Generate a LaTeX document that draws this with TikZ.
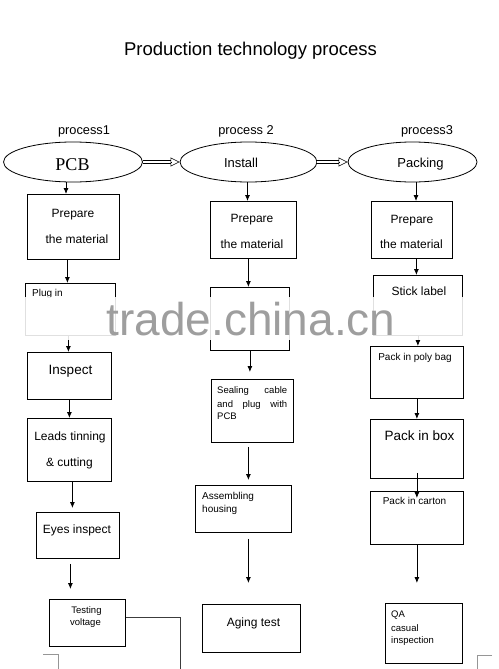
\documentclass[tikz,border=0pt]{standalone}
\usepackage{fontspec}
\setmainfont{Liberation Sans}
\newfontfamily\serifpcb{Liberation Serif}
\usetikzlibrary{shapes.geometric,arrows.meta}
\definecolor{wm}{RGB}{158,158,158}
\definecolor{cornergray}{RGB}{150,150,150}
\definecolor{linkgray}{RGB}{60,60,60}
\begin{document}
\begin{tikzpicture}[x=1pt,y=-1pt,
  box/.style={draw, line width=0.8pt, inner sep=0pt, anchor=north west},
  oval/.style={draw, ellipse, line width=0.8pt, inner sep=0pt, minimum height=40pt},
  arr/.style={line width=0.8pt, -{Latex[length=6pt,width=5pt]}},
  dbl/.style={double, double distance=2.2pt, line width=0.6pt},
  dhead/.style={line width=0.6pt, -{Triangle[open,length=9pt,width=9pt]}},
  txt/.style={inner sep=0pt, anchor=base},
  ltxt/.style={inner sep=0pt, anchor=base west},
  fA/.style={font=\fontsize{12}{14}\selectfont},
  fB/.style={font=\fontsize{13.5}{16}\selectfont},
  fS/.style={font=\fontsize{9.5}{12}\selectfont},
  fT/.style={font=\fontsize{10}{12}\selectfont},
]
\useasboundingbox (0,0) rectangle (498,669);

% title and process labels
\node[txt, font=\fontsize{18.5}{22}\selectfont] (title) at (250.5,56) {Production technology process};
\node[txt, font=\fontsize{12.8}{15}\selectfont] (pr1) at (84,134) {process1};
\node[txt, font=\fontsize{12.8}{15}\selectfont] (pr2) at (246,134) {process 2};
\node[txt, font=\fontsize{12.8}{15}\selectfont] (pr3) at (427,134) {process3};

% ellipses
\node[oval, minimum width=139pt] (pcb) at (73,162) {};
\node[oval, minimum width=137pt] (inst) at (248.5,162) {};
\node[oval, minimum width=129pt] (pack) at (412.5,162) {};
\node[txt, font=\serifpcb\fontsize{18}{20}\selectfont] (pcbt) at (72.5,170) {PCB};
\node[txt, font=\fontsize{13}{15}\selectfont] (instt) at (241,167) {Install};
\node[txt, font=\fontsize{13}{15}\selectfont] (packt) at (420.5,167) {Packing};

% double arrows
\draw[dbl] (pcb.east) -- ([xshift=-9pt]inst.west);
\draw[dhead] ([xshift=-9pt]inst.west) -- (inst.west);
\draw[dbl] (inst.east) -- ([xshift=-9pt]pack.west);
\draw[dhead] ([xshift=-9pt]pack.west) -- (pack.west);

% column 1 boxes
\node[box, minimum width=92pt, minimum height=65pt] (p1) at (27,194) {};
\node[box, minimum width=90pt, minimum height=52pt] (plug) at (25,283) {};
\node[box, minimum width=84pt, minimum height=47pt] (insp) at (27,352) {};
\node[box, minimum width=84pt, minimum height=63pt] (leads) at (27,418) {};
\node[box, minimum width=83pt, minimum height=46pt] (eyes) at (36,512) {};
\node[box, minimum width=76pt, minimum height=47pt] (test) at (49,599) {};

% column 2 boxes
\node[box, minimum width=86pt, minimum height=57pt] (p2) at (210,201) {};
\node[box, minimum width=79pt, minimum height=63pt] (empty) at (210,287) {};
\node[box, minimum width=82pt, minimum height=63pt] (seal) at (211,379) {};
\node[box, minimum width=96pt, minimum height=47pt] (asm) at (195,485) {};
\node[box, minimum width=98pt, minimum height=48pt] (aging) at (202,604) {};

% column 3 boxes
\node[box, minimum width=81pt, minimum height=57pt] (p3) at (371,201) {};
\node[box, minimum width=89pt, minimum height=60pt] (stick) at (373,275) {};
\node[box, minimum width=93pt, minimum height=52pt] (poly) at (370,346) {};
\node[box, minimum width=93pt, minimum height=59pt] (pbox) at (370,419) {};
\node[box, minimum width=93pt, minimum height=53pt] (carton) at (370,491) {};
\node[box, minimum width=77pt, minimum height=60pt] (qa) at (385,603) {};

% column 1 arrows
\draw[arr] ([xshift=-7pt]pcb.south) -- ([xshift=-7pt]pcb.south |- p1.north);
\draw[arr] ([xshift=-6pt]p1.south) -- ([xshift=-6pt]p1.south |- plug.north);
\draw[arr] ([xshift=-2pt]plug.south) -- ([xshift=-2pt]plug.south |- insp.north);
\draw[arr] (insp.south) -- (insp.south |- leads.north);
\draw[arr, shorten >=4pt] ([xshift=3pt]leads.south) -- ([xshift=3pt]leads.south |- eyes.north);
\draw[arr, shorten <=5pt, shorten >=10pt] ([xshift=-7.5pt]eyes.south) -- ([xshift=-7.5pt]eyes.south |- test.north);

% column 2 arrows
\draw[arr] ([xshift=-1pt]inst.south) -- ([xshift=-1pt]inst.south |- p2.north);
\draw[arr] ([xshift=-5pt]p2.south) -- ([xshift=-5pt]p2.south |- empty.north);
\draw[arr, shorten >=7pt] (empty.south) -- (empty.south |- seal.north);
\draw[arr, shorten <=4pt, shorten >=5pt] ([xshift=-4pt]seal.south) -- ([xshift=-4pt]seal.south |- asm.north);
\draw[arr, shorten <=6pt, shorten >=21pt] ([xshift=5pt]asm.south) -- ([xshift=5pt]asm.south |- aging.north);

% column 3 arrows
\draw[arr] ([xshift=3.5pt]pack.south) -- ([xshift=3.5pt]pack.south |- p3.north);
\draw[arr] ([xshift=4.5pt]p3.south) -- ([xshift=4.5pt]p3.south |- stick.north);
\draw[arr] (stick.south) -- (stick.south |- poly.north);
\draw[arr] (poly.south) -- (poly.south |- pbox.north);
\draw[arr, shorten <=-6pt, shorten >=-7pt] (pbox.south) -- (pbox.south |- carton.north);
\draw[arr, shorten >=20pt] (carton.south) -- (carton.south |- qa.north);

% link leaving Testing voltage
\coordinate (tvend) at (180,669);
\draw[linkgray, line width=0.9pt] ([yshift=5.5pt]test.east) -| (tvend);

% partial gray corners at the bottom
\draw[cornergray, line width=0.8pt] (43,654) -- (58,654) -- (58,669);
\draw[cornergray, line width=0.8pt] (492,655) -- (477,655) -- (477,669);

% texts column 1
\node[txt, fA] (t1a) at (73,217) {Prepare};
\node[txt, fA] (t1b) at (77,243) {the material};
\node[txt, fT] (t1c) at (47.5,296) {Plug in};
\node[txt, fB] (t1d) at (70.5,374) {Inspect};
\node[txt, fA] (t1e) at (70,440) {Leads tinning};
\node[txt, fA] (t1f) at (69.5,466) {\& cutting};
\node[txt, fA] (t1g) at (77,533) {Eyes inspect};
\node[txt, fS] (t1h) at (86.5,613) {Testing};
\node[txt, fS] (t1i) at (85.5,625) {voltage};

% texts column 2
\node[txt, fA] (t2a) at (252,222) {Prepare};
\node[txt, fA] (t2b) at (252,248) {the material};
\node[ltxt, font=\fontsize{9.5}{11}\selectfont] (t2c) at (217,393) {\makebox[70pt][s]{Sealing cable}};
\node[ltxt, font=\fontsize{9.5}{11}\selectfont] (t2d) at (217,407) {\makebox[70pt][s]{and plug with}};
\node[ltxt, font=\fontsize{9.5}{11}\selectfont] (t2e) at (217,419) {PCB};
\node[ltxt, fT] (t2f) at (202,499) {Assembling};
\node[ltxt, fT] (t2g) at (202,512) {housing};
\node[txt, fA] (t2h) at (253.5,626) {Aging test};

% texts column 3
\node[txt, fA] (t3a) at (412,223) {Prepare};
\node[txt, fA] (t3b) at (411.5,248) {the material};
\node[txt, fA] (t3c) at (419,295) {Stick label};
\node[txt, fT] (t3d) at (415,360) {Pack in poly bag};
\node[txt, fB] (t3e) at (419.5,440) {Pack in box};
\node[txt, fT] (t3f) at (414.5,504) {Pack in carton};
\node[ltxt, fS] (t3g) at (391,617) {QA};
\node[ltxt, fS] (t3h) at (391,631) {casual};
\node[ltxt, fS] (t3i) at (391,643) {inspection};

% watermark band
\fill[white, opacity=0.88] (15,297) rectangle (482,340);
\node[txt, wm, font=\fontsize{46}{50}\selectfont] (wmark) at (251,335) {trade.china.cn};
\end{tikzpicture}
\end{document}
